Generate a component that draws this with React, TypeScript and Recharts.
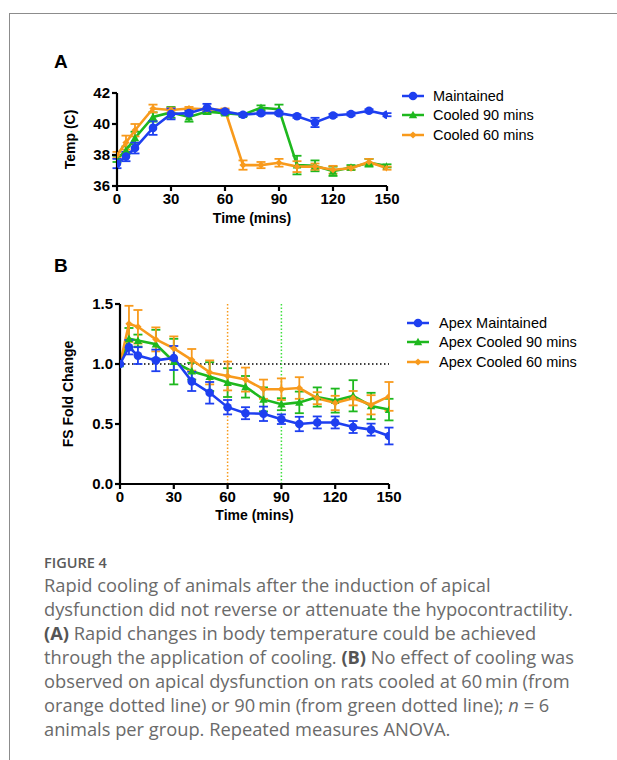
import React from 'react';
import { LineChart, Line, XAxis, YAxis, ErrorBar, ReferenceLine } from 'recharts';

// ---- Data ----
const times = [0, 5, 10, 20, 30, 40, 50, 60, 70, 80, 90, 100, 110, 120, 130, 140, 150];

// Panel A: Temperature (C)
const maintainedTemp = [37.45, 37.9, 38.45, 39.75, 40.65, 40.7, 41.05, 40.8, 40.6, 40.7, 40.7, 40.5, 40.1, 40.55, 40.65, 40.85, 40.6];
const maintainedTempErr = [0.3, 0.3, 0.35, 0.45, 0.35, 0.15, 0.25, 0.1, 0.1, 0.1, 0.1, 0.1, 0.3, 0.1, 0.1, 0.1, 0.1];
const cooled90Temp = [37.75, 38.3, 39.1, 40.45, 40.75, 40.45, 40.8, 40.7, 40.6, 41.05, 40.95, 37.35, 37.3, 36.95, 37.2, 37.5, 37.3];
const cooled90TempErr = [0.2, 0.25, 0.4, 0.3, 0.35, 0.3, 0.15, 0.1, 0.1, 0.15, 0.3, 0.6, 0.35, 0.3, 0.15, 0.25, 0.1];
const cooled60Temp = [38.0, 38.8, 39.6, 41.0, 40.9, 41.0, 40.95, 40.9, 37.35, 37.35, 37.5, 37.25, 37.25, 37.05, 37.15, 37.55, 37.15];
const cooled60TempErr = [0.2, 0.45, 0.4, 0.25, 0.15, 0.1, 0.1, 0.1, 0.3, 0.2, 0.25, 0.35, 0.2, 0.25, 0.1, 0.2, 0.1];

// Panel B: FS fold change
const maintainedFS = [1.0, 1.14, 1.07, 1.03, 1.05, 0.855, 0.76, 0.64, 0.59, 0.585, 0.54, 0.5, 0.513, 0.513, 0.475, 0.453, 0.4];
const maintainedFSErr = [0, 0.06, 0.07, 0.09, 0.1, 0.08, 0.09, 0.06, 0.05, 0.06, 0.04, 0.06, 0.05, 0.05, 0.05, 0.05, 0.07];
const cooled90FS = [1.0, 1.21, 1.195, 1.165, 1.02, 0.94, 0.895, 0.845, 0.81, 0.705, 0.665, 0.68, 0.725, 0.695, 0.735, 0.65, 0.62];
const cooled90FSErr = [0, 0.09, 0.05, 0.12, 0.19, 0.07, 0.12, 0.12, 0.09, 0.1, 0.05, 0.09, 0.08, 0.1, 0.13, 0.11, 0.09];
const cooled60FS = [1.0, 1.335, 1.31, 1.205, 1.13, 1.035, 0.93, 0.9, 0.87, 0.79, 0.79, 0.8, 0.715, 0.675, 0.715, 0.66, 0.73];
const cooled60FSErr = [0, 0.15, 0.14, 0.1, 0.1, 0.09, 0.1, 0.12, 0.1, 0.08, 0.09, 0.09, 0.05, 0.06, 0.06, 0.08, 0.12];

const xTicks = [0, 30, 60, 90, 120, 150];
const tempTicks = [36, 38, 40, 42];
const fsTicks = [0, 0.5, 1.0, 1.5];

const legendA = ['Maintained', 'Cooled 90 mins', 'Cooled 60 mins'];
const legendB = ['Apex Maintained', 'Apex Cooled 90 mins', 'Apex Cooled 60 mins'];

const captionTitle = 'FIGURE 4';

// ---- Styles ----
const BLUE = '#1e3ff0';
const GREEN = '#1eb81e';
const ORANGE = '#f89a1c';
const GREEN_REF = '#3fe03f';
const FONT = 'Arial, "Liberation Sans", Helvetica, sans-serif';

const dataA = times.map((t, i) => ({
  t,
  m: maintainedTemp[i], mErr: maintainedTempErr[i],
  c90: cooled90Temp[i], c90Err: cooled90TempErr[i],
  c60: cooled60Temp[i], c60Err: cooled60TempErr[i],
}));

const dataB = times.map((t, i) => ({
  t,
  m: maintainedFS[i], mErr: maintainedFSErr[i],
  c90: cooled90FS[i], c90Err: cooled90FSErr[i],
  c60: cooled60FS[i], c60Err: cooled60FSErr[i],
}));

type Shape = 'circle' | 'triangle' | 'diamond';

function Marker({ cx, cy, color, shape }: { cx: number; cy: number; color: string; shape: Shape }) {
  if (shape === 'circle') return <circle cx={cx} cy={cy} r={4.3} fill={color} />;
  if (shape === 'triangle') {
    const s = 4.2;
    return <polygon points={`${cx},${cy - s} ${cx + s},${cy + s * 0.8} ${cx - s},${cy + s * 0.8}`} fill={color} />;
  }
  const d = 3.6;
  return <polygon points={`${cx},${cy - d} ${cx + d},${cy} ${cx},${cy + d} ${cx - d},${cy}`} fill={color} />;
}

const makeDot = (color: string, shape: Shape) => (props: any) => {
  const { cx, cy, index } = props;
  if (cx == null || cy == null) return <g key={`d-${index}`} />;
  return (
    <g key={`d-${shape}-${index}`}>
      <Marker cx={cx} cy={cy} color={color} shape={shape} />
    </g>
  );
};

const tickStyle = { fill: '#000', fontSize: 15, fontWeight: 700, fontFamily: FONT };
const axisLineStyle = { stroke: '#000', strokeWidth: 2.2 };
const labelStyle = { fill: '#000', fontSize: 14, fontWeight: 700, fontFamily: FONT };

function HtmlLegend({ items, left, top, markerOffset }: { items: string[]; left: number; top: number; markerOffset: number }) {
  const colors = [BLUE, GREEN, ORANGE];
  const shapes: Shape[] = ['circle', 'triangle', 'diamond'];
  return (
    <div style={{ position: 'absolute', left, top, fontFamily: FONT, fontSize: 14.5, color: '#000' }}>
      {items.map((name, i) => (
        <div key={name} style={{ display: 'flex', alignItems: 'center', height: 19.5 }}>
          <svg width={22} height={12} style={{ marginRight: markerOffset }}>
            <line x1={0} y1={6} x2={22} y2={6} stroke={colors[i]} strokeWidth={2.5} />
            <Marker cx={11} cy={6} color={colors[i]} shape={shapes[i]} />
          </svg>
          <span style={{ whiteSpace: 'nowrap' }}>{name}</span>
        </div>
      ))}
    </div>
  );
}

const captionLines: React.ReactNode[] = [
  'Rapid cooling of animals after the induction of apical',
  'dysfunction did not reverse or attenuate the hypocontractility.',
  <><b style={{ color: '#555' }}>(A)</b> Rapid changes in body temperature could be achieved</>,
  <>through the application of cooling. <b style={{ color: '#555' }}>(B)</b> No effect of cooling was</>,
  'observed on apical dysfunction on rats cooled at 60\u2009min (from',
  <>orange dotted line) or 90{'\u2009'}min (from green dotted line); <i>n</i> = 6</>,
  'animals per group. Repeated measures ANOVA.',
];

export default function App() {
  return (
    <div style={{ position: 'absolute', left: 0, top: 0, width: 617, height: 760, overflow: 'hidden', background: '#fff' }}>
      {/* frame */}
      <div style={{ position: 'absolute', left: 9, top: 13, width: 700, height: 800, borderLeft: '1.5px solid #8c8c8c', borderTop: '1.5px solid #8c8c8c' }} />

      {/* Panel labels */}
      <div style={{ position: 'absolute', left: 54, top: 51, fontFamily: FONT, fontWeight: 700, fontSize: 19, color: '#000' }}>A</div>
      <div style={{ position: 'absolute', left: 54, top: 255, fontFamily: FONT, fontWeight: 700, fontSize: 19, color: '#000' }}>B</div>

      {/* Chart A */}
      <div style={{ position: 'absolute', left: 0, top: 0 }}>
        <LineChart width={617} height={260} data={dataA} margin={{ top: 93, right: 230, bottom: 10, left: 23 }}>
          <XAxis
            dataKey="t" type="number" domain={[0, 150]} ticks={xTicks} allowDataOverflow
            height={64} tickSize={5} tickMargin={2}
            axisLine={axisLineStyle} tickLine={axisLineStyle} tick={tickStyle}
            label={{ value: 'Time (mins)', position: 'center', style: labelStyle }}
          />
          <YAxis
            type="number" domain={[36, 42]} ticks={tempTicks} allowDataOverflow
            width={94} tickSize={5} tickMargin={2}
            axisLine={axisLineStyle} tickLine={axisLineStyle} tick={tickStyle}
            label={{ value: 'Temp (C)', angle: -90, position: 'center', style: labelStyle }}
          />
          <Line dataKey="c90" stroke={GREEN} strokeWidth={2.6} isAnimationActive={false} dot={makeDot(GREEN, 'triangle')} activeDot={false}>
            <ErrorBar dataKey="c90Err" direction="y" width={4.5} stroke={GREEN} strokeWidth={1.8} />
          </Line>
          <Line dataKey="c60" stroke={ORANGE} strokeWidth={2.6} isAnimationActive={false} dot={makeDot(ORANGE, 'diamond')} activeDot={false}>
            <ErrorBar dataKey="c60Err" direction="y" width={4.5} stroke={ORANGE} strokeWidth={1.8} />
          </Line>
          <Line dataKey="m" stroke={BLUE} strokeWidth={2.6} isAnimationActive={false} dot={makeDot(BLUE, 'circle')} activeDot={false}>
            <ErrorBar dataKey="mErr" direction="y" width={4.5} stroke={BLUE} strokeWidth={1.8} />
          </Line>
        </LineChart>
      </div>
      <HtmlLegend items={legendA} left={402} top={86} markerOffset={9} />

      {/* Chart B */}
      <div style={{ position: 'absolute', left: 0, top: 240 }}>
        <LineChart width={617} height={320} data={dataB} margin={{ top: 64, right: 228, bottom: 14, left: 16 }}>
          <XAxis
            dataKey="t" type="number" domain={[0, 150]} ticks={xTicks} allowDataOverflow
            height={62} tickSize={5} tickMargin={2}
            axisLine={axisLineStyle} tickLine={axisLineStyle} tick={tickStyle}
            label={{ value: 'Time (mins)', position: 'center', style: labelStyle }}
          />
          <YAxis
            type="number" domain={[0, 1.5]} ticks={fsTicks} allowDataOverflow
            width={104} tickSize={5} tickMargin={2}
            tickFormatter={(v: number) => v.toFixed(1)}
            axisLine={axisLineStyle} tickLine={axisLineStyle} tick={tickStyle}
            label={{ value: 'FS Fold Change', angle: -90, position: 'center', style: labelStyle }}
          />
          <ReferenceLine y={1} stroke="#000" strokeWidth={1.5} strokeDasharray="1.5 2.5" />
          <ReferenceLine x={60} stroke={ORANGE} strokeWidth={1.5} strokeDasharray="1.5 2" />
          <ReferenceLine x={90} stroke={GREEN_REF} strokeWidth={1.5} strokeDasharray="1.5 2" />
          <Line dataKey="c90" stroke={GREEN} strokeWidth={2.6} isAnimationActive={false} dot={makeDot(GREEN, 'triangle')} activeDot={false}>
            <ErrorBar dataKey="c90Err" direction="y" width={4.5} stroke={GREEN} strokeWidth={1.8} />
          </Line>
          <Line dataKey="c60" stroke={ORANGE} strokeWidth={2.6} isAnimationActive={false} dot={makeDot(ORANGE, 'diamond')} activeDot={false}>
            <ErrorBar dataKey="c60Err" direction="y" width={4.5} stroke={ORANGE} strokeWidth={1.8} />
          </Line>
          <Line dataKey="m" stroke={BLUE} strokeWidth={2.6} isAnimationActive={false} dot={makeDot(BLUE, 'circle')} activeDot={false}>
            <ErrorBar dataKey="mErr" direction="y" width={4.5} stroke={BLUE} strokeWidth={1.8} />
          </Line>
        </LineChart>
      </div>
      <HtmlLegend items={legendB} left={407} top={313} markerOffset={10} />

      {/* Caption */}
      <div style={{ position: 'absolute', left: 44, top: 553, fontFamily: '"Open Sans", sans-serif', fontSize: 14.5, fontWeight: 600, color: '#5a5a5a', lineHeight: '20px' }}>
        {captionTitle}
      </div>
      <div style={{ position: 'absolute', left: 44, top: 573, fontFamily: '"Open Sans", sans-serif', fontSize: 18.3, color: '#6a6a6a', lineHeight: '24px' }}>
        {captionLines.map((ln, i) => (
          <div key={i} style={{ whiteSpace: 'nowrap' }}>{ln}</div>
        ))}
      </div>
    </div>
  );
}
